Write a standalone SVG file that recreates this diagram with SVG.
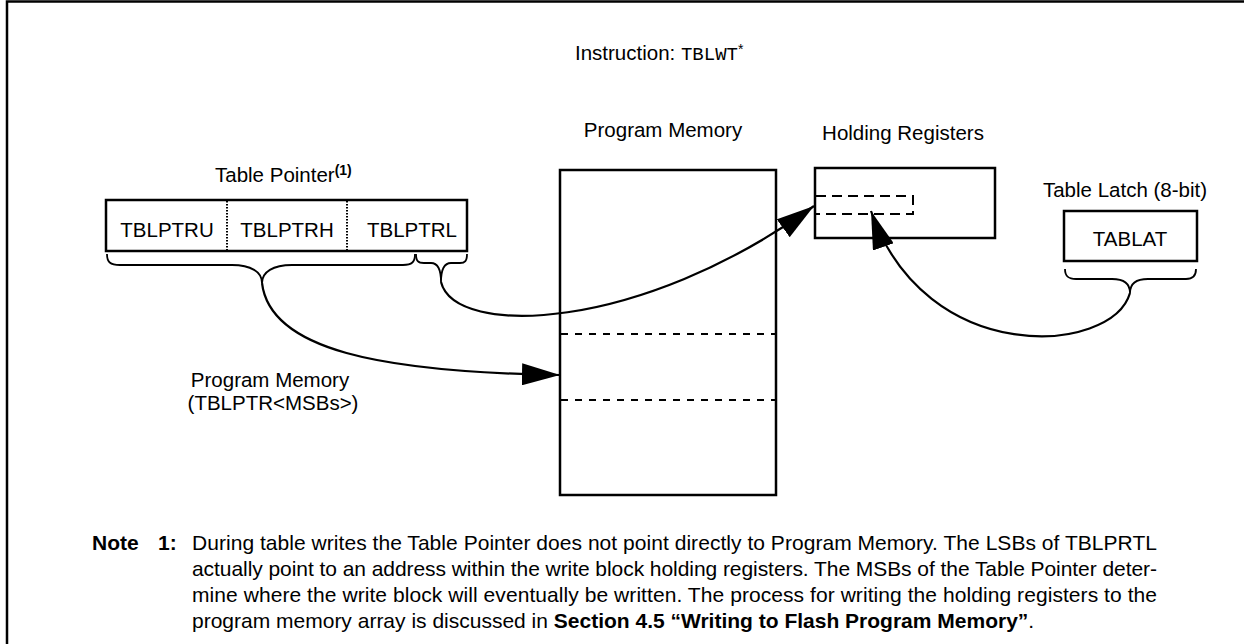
<svg xmlns="http://www.w3.org/2000/svg" width="1244" height="644" viewBox="0 0 1244 644">
<defs>
<style>
text{font-family:"Liberation Sans",Arial,sans-serif;font-size:20.5px;fill:#000}
.mono{font-family:"Liberation Mono","Courier New",monospace;font-size:19px}
.b{font-weight:bold}
.box{fill:#fff;stroke:#000;stroke-width:2.5}
.dot{stroke:#000;stroke-width:2;stroke-dasharray:1.5 1.5;fill:none}
.dash{stroke:#000;stroke-width:2;stroke-dasharray:7 7;fill:none}
.brace{stroke:#000;stroke-width:1.8;fill:none}
.arc{stroke:#000;stroke-width:2.2;fill:none;marker-end:url(#ah)}
.note{font-size:21px}
</style>
<marker id="ah" markerUnits="userSpaceOnUse" viewBox="0 0 38 22" markerWidth="38" markerHeight="22" refX="38" refY="11" orient="auto">
<path d="M0,0 L38,11 L0,22 z" fill="#000"/>
</marker>
</defs>
<rect width="1244" height="644" fill="#fff"/>
<path d="M7,644 V1.5 H1244" fill="none" stroke="#000" stroke-width="2.5"/>

<text x="575" y="60">Instruction: <tspan class="mono">TBLWT</tspan><tspan dy="-6" font-size="14">*</tspan></text>

<g id="table-pointer">
<text x="215" y="182">Table Pointer<tspan class="b" font-size="14" dy="-7">(1)</tspan></text>
<rect class="box" x="106" y="200" width="361" height="51"/>
<line class="dot" x1="227" y1="201" x2="227" y2="250"/>
<line class="dot" x1="347" y1="201" x2="347" y2="250"/>
<text x="167" y="237" text-anchor="middle">TBLPTRU</text>
<text x="287" y="237" text-anchor="middle">TBLPTRH</text>
<text x="412" y="237" text-anchor="middle">TBLPTRL</text>
<path class="brace" d="M107,254 C107,262 110,265 120,265 L232,265 C251,265 262,272 262,283 C262,272 273,265 292,265 L403,265 C412,265 415,262 415,254"/>
<path class="brace" d="M416,254 C416,261 418,263 424,263 L431,263 C438,263 441,269 441,282 C441,269 444,263 451,263 L460,263 C465,263 467,261 467,254"/>
</g>

<g id="program-memory">
<text x="663" y="137" text-anchor="middle">Program Memory</text>
<rect class="box" x="560" y="170" width="216" height="325"/>
<line class="dash" x1="561" y1="334" x2="775" y2="334"/>
<line class="dash" x1="561" y1="400" x2="775" y2="400"/>
</g>

<g id="holding-registers">
<text x="903" y="140" text-anchor="middle">Holding Registers</text>
<rect class="box" x="815" y="168" width="180" height="70"/>
<path d="M816,196 H913 V214 H816" fill="none" stroke="#000" stroke-width="2" stroke-dasharray="10 6"/>
</g>

<g id="table-latch">
<text x="1125" y="197" text-anchor="middle">Table Latch (8-bit)</text>
<rect class="box" x="1064" y="211" width="133" height="50"/>
<text x="1130" y="246" text-anchor="middle">TABLAT</text>
<path class="brace" d="M1065,269 C1065,276 1068,279 1076,279 L1112,279 C1124,279 1130,284 1130,293 C1130,284 1136,279 1148,279 L1186,279 C1193,279 1196,276 1196,269"/>
</g>

<g id="pm-msb-label">
<text x="270" y="387" text-anchor="middle">Program Memory</text>
<text x="273" y="410" text-anchor="middle">(TBLPTR&lt;MSBs&gt;)</text>
</g>

<g id="connectors">
<path class="arc" d="M441,282 C455,338 640,332 814,206"/>
<path class="arc" d="M262,283 C270,350 380,372 560,375"/>
<path class="arc" d="M1130,293 C1112,355 925,368 871,211"/>
</g>

<g id="note">
<text class="note b" x="92" y="550">Note</text>
<text class="note b" x="158" y="550">1:</text>
<text class="note" x="192" y="550" textLength="965" lengthAdjust="spacing">During table writes the Table Pointer does not point directly to Program Memory. The LSBs of TBLPRTL</text>
<text class="note" x="192" y="576" textLength="965" lengthAdjust="spacing">actually point to an address within the write block holding registers. The MSBs of the Table Pointer deter-</text>
<text class="note" x="192" y="602" textLength="965" lengthAdjust="spacing">mine where the write block will eventually be written. The process for writing the holding registers to the</text>
<text class="note" x="192" y="628">program memory array is discussed in <tspan class="b">Section 4.5 “Writing to Flash Program Memory”</tspan>.</text>
</g>
</svg>
